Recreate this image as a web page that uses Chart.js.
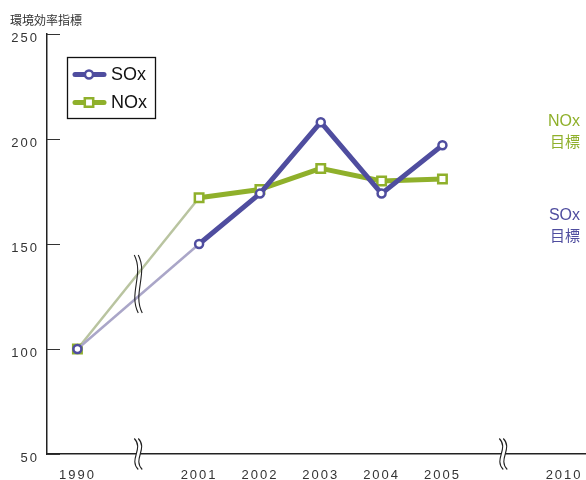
<!DOCTYPE html>
<html>
<head>
<meta charset="utf-8">
<script src="https://cdn.jsdelivr.net/npm/chart.js@4/dist/chart.umd.min.js"></script>
<style>
  html, body { margin: 0; padding: 0; background: #fff; }
  #wrap { width: 586px; height: 480px; position: relative; }
</style>
</head>
<body>
<div id="wrap"><canvas id="c" width="586" height="480"></canvas></div>
<script>
// Index-efficiency series (1990 = 100); empty slots mark the axis breaks
const yearLabels = ['1990', '', '2001', '2002', '2003', '2004', '2005', '', '2010'];
const soxValues  = [100, null, 150, 174, 208, 174, 197, null, null];
const noxValues  = [100, null, 172, 176, 186, 180, 181, null, null];
const yTicks     = [50, 100, 150, 200, 250];
const yTitle     = '環境効率指標';
const seriesNames = ['SOx', 'NOx'];
const targetNames = [['NOx', '目標'], ['SOx', '目標']];

const SOX = '#4f4d9f';
const SOX_FADE = '#aaa6c8';
const NOX = '#8fb02b';
const NOX_FADE = '#b9c4a0';
const INK = '#222';
const LATIN = "'Liberation Sans', Arial, sans-serif";
const CJK = "'Noto Sans CJK JP', 'Noto Sans CJK SC', sans-serif";

const toPoints = vals => vals.map((v, i) => ({ x: i, y: v })).filter(p => p.y !== null);

// wavy "≈" break symbol drawn across a line or axis
function drawBreak(ctx, cx, cy, h, fillWhite) {
  const gap = 4, top = cy - h / 2, bot = cy + h / 2, w = 8;
  const wave = dx => {
    ctx.moveTo(cx + dx - 2, top);
    ctx.bezierCurveTo(cx + dx + w, top + h * 0.33, cx + dx - w, top + h * 0.67, cx + dx + 2, bot);
  };
  if (fillWhite) {
    ctx.beginPath();
    ctx.moveTo(cx - gap / 2 - 2, top);
    ctx.bezierCurveTo(cx - gap / 2 + w, top + h * 0.33, cx - gap / 2 - w, top + h * 0.67, cx - gap / 2 + 2, bot);
    ctx.lineTo(cx + gap / 2 + 2, bot);
    ctx.bezierCurveTo(cx + gap / 2 - w, top + h * 0.67, cx + gap / 2 + w, top + h * 0.33, cx + gap / 2 - 2, top);
    ctx.closePath();
    ctx.fillStyle = '#fff';
    ctx.fill();
  }
  ctx.beginPath();
  wave(-gap / 2);
  wave(gap / 2);
  ctx.strokeStyle = INK;
  ctx.lineWidth = 1.1;
  ctx.stroke();
}

const decorations = {
  id: 'decorations',
  beforeDraw(chart) {
    // tracked-out digits on both axes
    chart.ctx.letterSpacing = '2px';
  },
  afterDraw(chart) {
    const ctx = chart.ctx;
    const { chartArea: area, scales: { x, y } } = chart;
    ctx.save();
    ctx.letterSpacing = '0px';

    // inward tick marks on the value axis
    ctx.strokeStyle = '#333';
    ctx.lineWidth = 1;
    yTicks.forEach(v => {
      const py = Math.round(y.getPixelForValue(v)) + 0.5;
      ctx.beginPath();
      ctx.moveTo(area.left, py);
      ctx.lineTo(area.left + 13, py);
      ctx.stroke();
    });

    // axis breaks and the break on the 1990-2001 span
    const axisY = y.getPixelForValue(50);
    drawBreak(ctx, x.getPixelForValue(1), axisY, 31, true);
    drawBreak(ctx, x.getPixelForValue(7), axisY, 31, true);
    drawBreak(ctx, x.getPixelForValue(1), y.getPixelForValue(131), 58, false);

    // axis title
    ctx.fillStyle = '#333';
    ctx.font = '12px ' + CJK;
    ctx.textAlign = 'left';
    ctx.textBaseline = 'middle';
    ctx.fillText(yTitle, 10, 20);

    // legend box
    ctx.strokeStyle = '#111';
    ctx.lineWidth = 1.3;
    ctx.strokeRect(67.5, 57.5, 88, 61);
    const rows = [
      { name: seriesNames[0], color: SOX, y: 74.5, marker: 'circle' },
      { name: seriesNames[1], color: NOX, y: 102.5, marker: 'rect' }
    ];
    rows.forEach(r => {
      ctx.beginPath();
      ctx.moveTo(75, r.y);
      ctx.lineTo(104, r.y);
      ctx.strokeStyle = r.color;
      ctx.lineWidth = 5;
      ctx.lineCap = 'round';
      ctx.stroke();
      ctx.lineCap = 'butt';
      ctx.lineWidth = 2.5;
      ctx.fillStyle = '#fff';
      ctx.beginPath();
      if (r.marker === 'circle') ctx.arc(89, r.y, 4, 0, Math.PI * 2);
      else ctx.rect(89 - 4.2, r.y - 4.2, 8.4, 8.4);
      ctx.fill();
      ctx.stroke();
      ctx.fillStyle = '#111';
      ctx.font = '18px ' + LATIN;
      ctx.textAlign = 'left';
      ctx.fillText(r.name, 111, r.y + 0.5);
    });

    // target labels at the right edge
    ctx.textAlign = 'right';
    const targets = [
      { lines: targetNames[0], color: NOX, y: 122 },
      { lines: targetNames[1], color: SOX, y: 215.5 }
    ];
    targets.forEach(t => {
      ctx.fillStyle = t.color;
      ctx.font = '16px ' + LATIN;
      ctx.fillText(t.lines[0], 580, t.y);
      ctx.font = '15px ' + CJK;
      ctx.fillText(t.lines[1], 580, t.y + 19.5);
    });
    ctx.restore();
  }
};

new Chart(document.getElementById('c'), {
  type: 'line',
  data: {
    datasets: [
      {
        label: seriesNames[0],
        data: toPoints(soxValues),
        borderColor: SOX,
        borderWidth: 5,
        borderJoinStyle: 'round',
        pointStyle: 'circle',
        pointRadius: 4,
        pointBorderWidth: 2.5,
        pointBackgroundColor: '#fff',
        pointBorderColor: SOX,
        segment: {
          borderColor: c => (c.p0DataIndex === 0 ? SOX_FADE : undefined),
          borderWidth: c => (c.p0DataIndex === 0 ? 2.5 : undefined)
        }
      },
      {
        label: seriesNames[1],
        data: toPoints(noxValues),
        borderColor: NOX,
        borderWidth: 5,
        borderJoinStyle: 'round',
        pointStyle: 'rect',
        pointRadius: 6,
        pointBorderWidth: 2.5,
        pointBackgroundColor: '#fff',
        pointBorderColor: NOX,
        segment: {
          borderColor: c => (c.p0DataIndex === 0 ? NOX_FADE : undefined),
          borderWidth: c => (c.p0DataIndex === 0 ? 2.5 : undefined)
        }
      }
    ]
  },
  options: {
    responsive: false,
    animation: false,
    layout: { autoPadding: false, padding: { top: 34, right: 0, bottom: 0, left: 0 } },
    plugins: { legend: { display: false }, tooltip: { enabled: false } },
    scales: {
      x: {
        type: 'linear',
        min: -0.5,
        max: 8.36,
        afterFit(s) {
          s.height = 26;
          s.paddingLeft = 0;
          s.paddingRight = 0;
        },
        afterBuildTicks(s) {
          s.ticks = yearLabels.map((l, i) => ({ value: i })).filter(t => yearLabels[t.value] !== '');
        },
        ticks: {
          callback: v => yearLabels[v],
          autoSkip: false,
          maxRotation: 0,
          padding: 14,
          color: '#333',
          font: { family: LATIN, size: 13 }
        },
        grid: { display: false, drawTicks: false },
        border: { display: true, color: INK, width: 1.5 }
      },
      y: {
        min: 50,
        max: 250,
        afterFit(s) {
          s.width = 47;
          s.paddingTop = 0;
          s.paddingBottom = 0;
        },
        afterBuildTicks(s) { s.ticks = yTicks.map(v => ({ value: v })); },
        ticks: {
          padding: 8,
          labelOffset: 4.5,
          color: '#333',
          font: { family: LATIN, size: 13 }
        },
        grid: { display: false, drawTicks: false },
        border: { display: true, color: INK, width: 1.5 }
      }
    }
  },
  plugins: [decorations]
});
</script>
</body>
</html>
